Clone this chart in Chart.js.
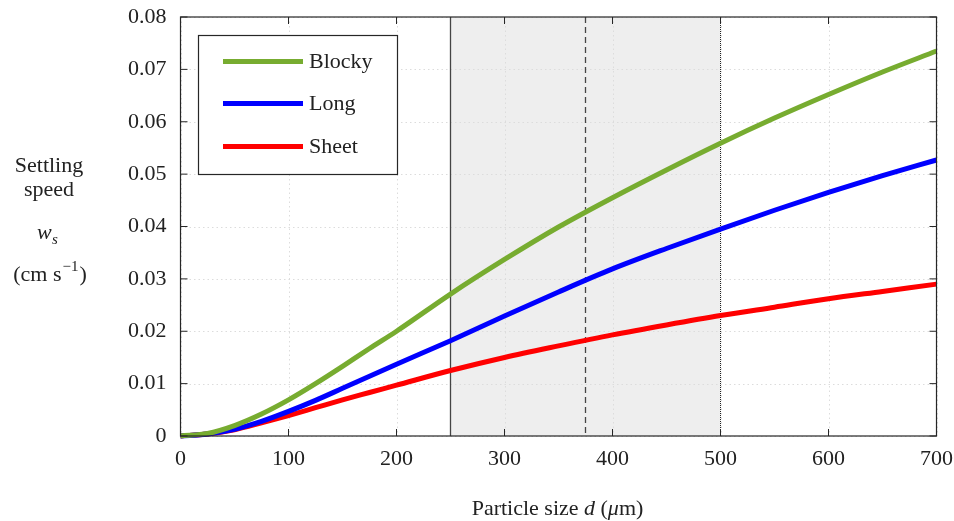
<!DOCTYPE html>
<html>
<head>
<meta charset="utf-8">
<script src="https://cdn.jsdelivr.net/npm/chart.js@4.4.0/dist/chart.umd.min.js"></script>
<style>
html,body{margin:0;padding:0;background:#fff;}
#wrap{width:954px;height:521px;position:relative;}
</style>
</head>
<body>
<div id="wrap"><canvas id="c" width="954" height="521"></canvas></div>
<script>
const particleSize = [0,25,50,75,100,125,150,175,200,250,300,350,400,450,500,550,600,650,700];
const blocky = [0,0.0005,0.0020,0.0042,0.0069,0.0100,0.0133,0.0167,0.0200,0.0271,0.0337,0.0399,0.0455,0.0508,0.0559,0.0607,0.0652,0.0695,0.0735];
const long_ = [0,0.0004,0.0013,0.0028,0.0047,0.0068,0.0091,0.0114,0.0137,0.0182,0.0229,0.0275,0.0319,0.0358,0.0395,0.0431,0.0465,0.0497,0.0527];
const sheet = [0,0.0004,0.0012,0.0025,0.0039,0.0054,0.0069,0.0083,0.0097,0.0125,0.0150,0.0172,0.0193,0.0212,0.0230,0.0246,0.0262,0.0276,0.0290];
const seriesNames = ['Blocky','Long','Sheet'];
const seriesColors = ['#77AC30','#0000FF','#FF0000'];
const xTicks = [0,100,200,300,400,500,600,700];
const yTicks = [0,0.01,0.02,0.03,0.04,0.05,0.06,0.07,0.08];
const rangeBand = [250,500];
const rangeMid = 375;

const FONT = '"Liberation Serif", "DejaVu Serif", serif';
const FS = 22;

function toPts(ys){ return particleSize.map((x,i)=>({x:x,y:ys[i]})); }

const deco = {
  id:'deco',
  beforeDatasetsDraw(chart){
    const {ctx, chartArea:a, scales:{x,y}} = chart;
    ctx.save();
    const x0 = x.getPixelForValue(rangeBand[0]), x1 = x.getPixelForValue(rangeBand[1]);
    ctx.fillStyle = '#eeeeee';
    ctx.fillRect(x0, a.top, x1-x0, a.bottom-a.top);
    ctx.strokeStyle = '#dcdcdc';
    ctx.lineWidth = 1;
    ctx.setLineDash([1.5,3]);
    xTicks.forEach(v=>{ const px=Math.round(x.getPixelForValue(v))+0.5; ctx.beginPath(); ctx.moveTo(px,a.top); ctx.lineTo(px,a.bottom); ctx.stroke(); });
    yTicks.forEach(v=>{ const py=Math.round(y.getPixelForValue(v))+0.5; ctx.beginPath(); ctx.moveTo(a.left,py); ctx.lineTo(a.right,py); ctx.stroke(); });
    ctx.strokeStyle = '#444';
    ctx.lineWidth = 1.3;
    ctx.setLineDash([]);
    ctx.beginPath(); ctx.moveTo(x0,a.top); ctx.lineTo(x0,a.bottom); ctx.stroke();
    const xm = x.getPixelForValue(rangeMid);
    ctx.setLineDash([6,4]);
    ctx.beginPath(); ctx.moveTo(xm,a.top); ctx.lineTo(xm,a.bottom); ctx.stroke();
    ctx.strokeStyle = '#222';
    ctx.lineWidth = 1;
    ctx.setLineDash([1,1]);
    ctx.beginPath(); ctx.moveTo(x1,a.top); ctx.lineTo(x1,a.bottom); ctx.stroke();
    ctx.restore();
  },
  afterDatasetsDraw(chart){
    const {ctx, chartArea:a, scales:{x,y}} = chart;
    ctx.save();
    ctx.setLineDash([]);
    ctx.strokeStyle = '#262626';
    ctx.lineWidth = 1.2;
    ctx.strokeRect(a.left, a.top, a.right-a.left, a.bottom-a.top);
    const tl = 7;
    ctx.lineWidth = 1;
    xTicks.forEach(v=>{ const px=x.getPixelForValue(v);
      ctx.beginPath(); ctx.moveTo(px,a.bottom); ctx.lineTo(px,a.bottom-tl); ctx.moveTo(px,a.top); ctx.lineTo(px,a.top+tl); ctx.stroke(); });
    yTicks.forEach(v=>{ const py=y.getPixelForValue(v);
      ctx.beginPath(); ctx.moveTo(a.left,py); ctx.lineTo(a.left+tl,py); ctx.moveTo(a.right,py); ctx.lineTo(a.right-tl,py); ctx.stroke(); });
    // legend
    const lx=198.5, ly=35.5, lw=199, lh=139;
    ctx.fillStyle='#fff';
    ctx.fillRect(lx,ly,lw,lh);
    ctx.strokeStyle='#262626'; ctx.lineWidth=1.2;
    ctx.strokeRect(lx,ly,lw,lh);
    const rows=[61.5,103.5,146.5];
    seriesNames.forEach((n,i)=>{
      ctx.strokeStyle=seriesColors[i]; ctx.lineWidth=5;
      ctx.beginPath(); ctx.moveTo(223,rows[i]); ctx.lineTo(303,rows[i]); ctx.stroke();
      ctx.fillStyle='#222'; ctx.font=FS+'px '+FONT; ctx.textBaseline='alphabetic'; ctx.textAlign='left';
      ctx.fillText(n,309,rows[i]+6.5);
    });
    // axis titles
    ctx.fillStyle='#222';
    ctx.textAlign='center'; ctx.textBaseline='alphabetic';
    ctx.font=FS+'px '+FONT;
    ctx.fillText('Settling',49,172);
    ctx.fillText('speed',49,196);
    ctx.font='italic '+FS+'px '+FONT;
    ctx.textAlign='left';
    ctx.fillText('w',37,239);
    ctx.font='italic 15px '+FONT;
    ctx.fillText('s',52,244);
    ctx.font=FS+'px '+FONT;
    const t1='(cm s', t2=')';
    const w1=ctx.measureText(t1).width;
    ctx.font='15px '+FONT; const ws=ctx.measureText('\u22121').width;
    ctx.font=FS+'px '+FONT; const w2=ctx.measureText(t2).width;
    let sx = 50 - (w1+ws+w2+2)/2;
    ctx.fillText(t1,sx,281);
    ctx.font='15px '+FONT; ctx.fillText('\u22121',sx+w1+1,271);
    ctx.font=FS+'px '+FONT; ctx.fillText(t2,sx+w1+ws+2,281);
    // x title
    const pA='Particle size ', pB='d', pC=' (', pD='\u03bc', pE='m)';
    ctx.font=FS+'px '+FONT; const wA=ctx.measureText(pA).width, wC=ctx.measureText(pC).width, wE=ctx.measureText(pE).width;
    ctx.font='italic '+FS+'px '+FONT; const wB=ctx.measureText(pB).width, wD=ctx.measureText(pD).width;
    let xx = 557.5 - (wA+wB+wC+wD+wE)/2; const yy=515;
    ctx.font=FS+'px '+FONT; ctx.fillText(pA,xx,yy); xx+=wA;
    ctx.font='italic '+FS+'px '+FONT; ctx.fillText(pB,xx,yy); xx+=wB;
    ctx.font=FS+'px '+FONT; ctx.fillText(pC,xx,yy); xx+=wC;
    ctx.font='italic '+FS+'px '+FONT; ctx.fillText(pD,xx,yy); xx+=wD;
    ctx.font=FS+'px '+FONT; ctx.fillText(pE,xx,yy);
    ctx.restore();
  }
};

new Chart(document.getElementById('c'), {
  type:'line',
  data:{
    datasets:[blocky,long_,sheet].map((d,i)=>({
      label:seriesNames[i], data:toPts(d), borderColor:seriesColors[i], borderWidth:5,
      pointRadius:0, fill:false, cubicInterpolationMode:'monotone', clip:false
    }))
  },
  options:{
    responsive:false, animation:false, devicePixelRatio:1,
    layout:{padding:{left:0,right:17.5,top:17,bottom:0}},
    plugins:{legend:{display:false}, tooltip:{enabled:false}},
    scales:{
      x:{type:'linear', min:0, max:700,
        afterBuildTicks(s){ s.ticks = xTicks.map(v=>({value:v})); },
        afterFit(s){ s.height = 85; s.paddingLeft = 0; s.paddingRight = 0; },
        grid:{display:false}, border:{display:false},
        ticks:{font:{family:FONT,size:FS}, color:'#222', padding:2, maxRotation:0, autoSkip:false}
      },
      y:{type:'linear', min:0, max:0.08,
        afterBuildTicks(s){ s.ticks = yTicks.map(v=>({value:v})); },
        afterFit(s){ s.width = 180.5; s.paddingTop = 0; s.paddingBottom = 0; },
        grid:{display:false}, border:{display:false},
        ticks:{font:{family:FONT,size:FS}, color:'#222', padding:6, autoSkip:false,
          callback:v=> v===0 ? '0' : v.toFixed(2)}
      }
    }
  },
  plugins:[deco]
});
</script>
</body>
</html>
